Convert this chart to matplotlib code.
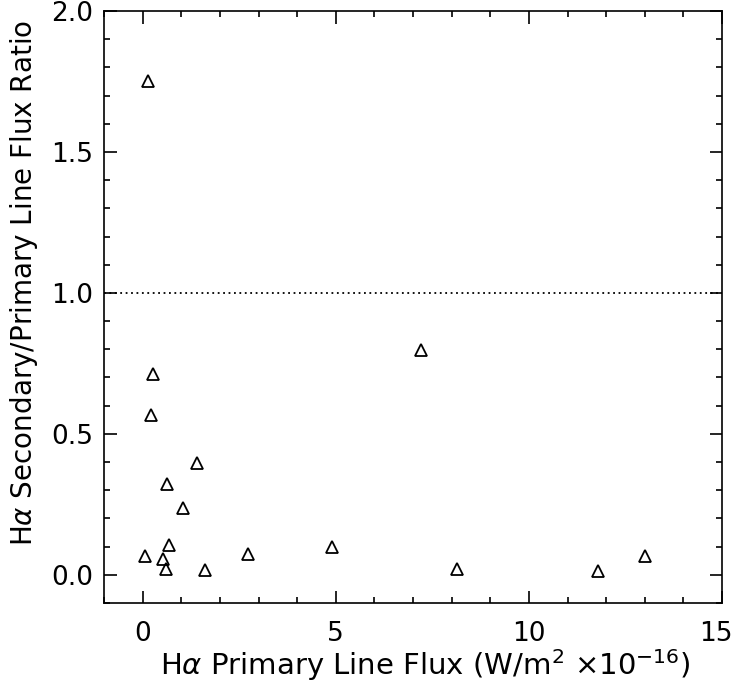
import numpy as np
import matplotlib
matplotlib.use('Agg')
import matplotlib.pyplot as plt
import matplotlib.transforms as mtransforms
from matplotlib.ticker import MultipleLocator

# H-alpha primary flux (x 1e-16 W/m^2) and secondary/primary ratio
flux = [0.14, 0.27, 0.22, 1.42, 0.62, 1.04, 0.69, 0.07, 0.52, 0.61,
        1.61, 2.73, 4.91, 7.20, 8.13, 11.80, 13.00]
ratio = [1.751, 0.713, 0.567, 0.395, 0.322, 0.237, 0.107, 0.066, 0.057, 0.019,
         0.017, 0.074, 0.097, 0.796, 0.020, 0.012, 0.066]

plt.rcParams['font.family'] = ['DejaVu Sans']
plt.rcParams['mathtext.fontset'] = 'dejavusans'

fig = plt.figure(figsize=(7.36, 6.84), dpi=100)
ax = fig.add_axes([0.1413, 0.1184, 0.8397, 0.8655])

ax.plot(flux, ratio, linestyle='none', marker='^', ms=9, mfc='none',
        mec='black', mew=1.3)
ax.axhline(1.0, color='black', linestyle=(0, (1, 2)), lw=1.3)

ax.set_xlim(-1, 15)
ax.set_ylim(-0.1, 2.0)
ax.xaxis.set_major_locator(MultipleLocator(5))
ax.xaxis.set_minor_locator(MultipleLocator(1))
ax.yaxis.set_major_locator(MultipleLocator(0.5))
ax.yaxis.set_minor_locator(MultipleLocator(0.1))
ax.yaxis.set_major_formatter(matplotlib.ticker.FormatStrFormatter('%.1f'))

ax.tick_params(which='both', direction='in', top=True, right=True,
               width=1.2, labelsize=19)
ax.tick_params(which='major', length=9)
ax.tick_params(which='minor', length=4.5)
ax.tick_params(axis='x', which='major', pad=13)
ax.tick_params(axis='y', which='major', pad=8)
for s in ax.spines.values():
    s.set_linewidth(1.2)

ax.set_xlabel(r'H$\alpha$ Primary Line Flux (W/m$^2$ $\times$10$^{-16}$)', fontsize=21)
ax.set_ylabel(r'H$\alpha$ Secondary/Primary Line Flux Ratio', fontsize=20)
ax.xaxis.set_label_coords(0.52, -0.075)
ax.yaxis.set_label_coords(-0.103, 0.54)

# "15" sits at the right edge; nudge it inward
fig.canvas.draw()
for lbl in ax.get_xticklabels():
    if lbl.get_text() == '15':
        lbl.set_transform(lbl.get_transform() + mtransforms.ScaledTranslation(-6 / 100, 0, fig.dpi_scale_trans))

fig.savefig('out.png', dpi=100)
